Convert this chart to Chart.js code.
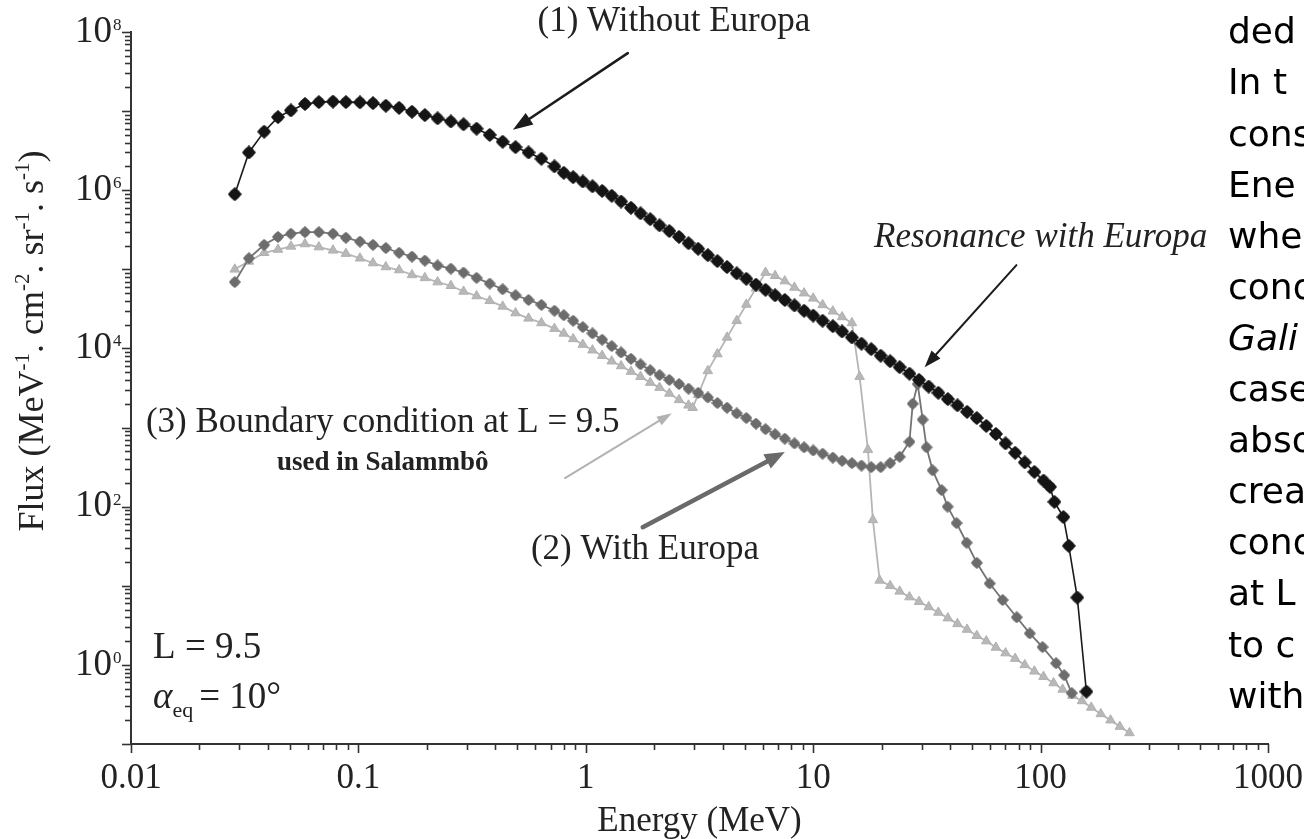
<!DOCTYPE html>
<html>
<head>
<meta charset="utf-8">
<title>Electron flux at L = 9.5</title>
<script src="https://cdn.jsdelivr.net/npm/chart.js@4.4.1/dist/chart.umd.min.js"></script>
<style>
  html, body { margin: 0; padding: 0; background: #fff; }
  #wrap { width: 1304px; height: 839px; overflow: hidden; }
</style>
</head>
<body>
<div id="wrap"><canvas id="flux" width="1304" height="839"></canvas></div>
<script>
// ---------- data (energy in MeV, flux in MeV-1 cm-2 sr-1 s-1) ----------
const energyWithoutEuropa = [
  0.0286, 0.0330, 0.0385, 0.0443, 0.0505, 0.0582, 0.0670, 0.0773, 0.0881, 0.1016,
  0.1159, 0.132, 0.151, 0.172, 0.196, 0.223, 0.255, 0.290, 0.331, 0.378,
  0.431, 0.491, 0.560, 0.638, 0.728,
  0.80, 0.88, 0.97, 1.07, 1.18, 1.30, 1.43, 1.58, 1.74, 1.92,
  2.11, 2.33, 2.57, 2.83, 3.12, 3.44, 3.79, 4.18, 4.61, 5.08,
  5.60, 6.17, 6.80, 7.50, 8.27, 9.12, 10.0, 11.0, 12.2, 13.4,
  14.8, 16.3, 18.0, 19.8, 21.8, 24.0, 26.5, 29.2, 32.2, 35.5,
  39.1, 43.1, 47.5, 52.4, 57.7, 63.6, 70.1, 77.3, 85.2, 93.9,
  103, 110, 115, 126, 133, 145, 159
];
const fluxWithoutEuropa = [
  8.9e5, 3.0e6, 5.5e6, 8.4e6, 1.02e7, 1.23e7, 1.30e7, 1.32e7, 1.30e7, 1.29e7,
  1.26e7, 1.17e7, 1.10e7, 9.8e6, 8.9e6, 8.1e6, 7.4e6, 6.8e6, 6.0e6, 5.0e6,
  4.1e6, 3.5e6, 3.0e6, 2.5e6, 2.0e6,
  1.66e6, 1.46e6, 1.29e6, 1.12e6, 9.8e5, 8.5e5, 7.2e5, 6.0e5, 5.1e5, 4.3e5,
  3.6e5, 3.05e5, 2.57e5, 2.14e5, 1.82e5, 1.51e5, 1.27e5, 1.07e5, 8.9e4, 7.6e4,
  6.4e4, 5.5e4, 4.7e4, 4.1e4, 3.5e4, 3.0e4, 2.6e4, 2.24e4, 1.91e4, 1.64e4,
  1.38e4, 1.15e4, 9.8e3, 8.1e3, 6.9e3, 5.8e3, 4.8e3, 4.0e3, 3.3e3, 2.75e3,
  2.29e3, 1.91e3, 1.58e3, 1.32e3, 1.05e3, 830, 630, 480, 363, 275,
  214, 178, 115, 74, 32, 7.1, 0.46
];

const energyWithEuropa = [
  0.0286, 0.0330, 0.0385, 0.0443, 0.0505, 0.0582, 0.0670, 0.0773, 0.0881, 0.1016,
  0.1159, 0.132, 0.151, 0.172, 0.196, 0.223, 0.255, 0.290, 0.331, 0.378,
  0.431, 0.491, 0.560, 0.638, 0.728,
  0.80, 0.88, 0.97, 1.07, 1.18, 1.30, 1.43, 1.58, 1.74, 1.92,
  2.11, 2.33, 2.57, 2.83, 3.12, 3.44, 3.79, 4.18, 4.61, 5.08,
  5.60, 6.17, 6.80, 7.50, 8.27, 9.12, 10.0, 11.0, 12.2, 13.4,
  14.8, 16.3, 18.0, 19.8, 21.8, 24.0, 26.5,
  27.4, 28.8, 30.3, 31.5, 33.5, 36.7, 39.0, 42.7, 47.3, 52.4,
  59.7, 68.1, 78.5, 89.6, 102, 117, 127, 137
];
const fluxWithEuropa = [
  6.9e4, 1.38e5, 2.04e5, 2.57e5, 2.82e5, 2.95e5, 2.95e5, 2.82e5, 2.51e5, 2.24e5,
  2.04e5, 1.86e5, 1.62e5, 1.45e5, 1.29e5, 1.12e5, 1.02e5, 9.1e4, 7.8e4, 6.6e4,
  5.6e4, 4.7e4, 4.1e4, 3.55e4, 3.0e4,
  2.63e4, 2.24e4, 1.86e4, 1.55e4, 1.29e4, 1.07e4, 8.9e3, 7.4e3, 6.3e3, 5.3e3,
  4.6e3, 4.0e3, 3.55e3, 3.1e3, 2.75e3, 2.4e3, 2.04e3, 1.78e3, 1.51e3, 1.32e3,
  1.12e3, 955, 822, 724, 631, 562, 513, 468, 417, 380,
  355, 331, 316, 316, 355, 427, 661,
  2.0e3, 3.55e3, 1.26e3, 562, 288, 162, 100, 62, 35, 19.5,
  10.7, 6.6, 4.0, 2.5, 1.68, 1.05, 0.74, 0.44
];

const energySalammbo = [
  0.0286, 0.0330, 0.0385, 0.0443, 0.0505, 0.0582, 0.0670, 0.0773, 0.0881, 0.1016,
  0.1159, 0.132, 0.151, 0.172, 0.196, 0.223, 0.255, 0.290, 0.331, 0.378,
  0.431, 0.491, 0.560, 0.638, 0.728,
  0.80, 0.88, 0.97, 1.07, 1.18, 1.30, 1.43, 1.58, 1.74, 1.92,
  2.11, 2.33, 2.57, 2.83, 2.95,
  3.12, 3.44, 3.79, 4.18, 4.61, 5.08, 5.60, 6.17,
  6.80, 7.50, 8.27, 9.12, 10.0, 11.0, 12.2, 13.4, 14.8,
  16.0, 17.4, 18.3, 19.6,
  21.8, 24.0, 26.5, 29.2, 32.2, 35.5, 39.1, 43.1, 47.5, 52.4,
  57.7, 63.6, 70.1, 77.3, 85.2, 93.9,
  103, 114, 125, 138, 152, 167, 184, 203, 223, 246
];
const fluxSalammbo = [
  1.0e5, 1.26e5, 1.62e5, 1.78e5, 1.95e5, 2.09e5, 1.91e5, 1.74e5, 1.58e5, 1.38e5,
  1.20e5, 1.07e5, 9.8e4, 8.5e4, 7.8e4, 6.9e4, 6.2e4, 5.25e4, 4.6e4, 4.0e4,
  3.4e4, 2.8e4, 2.4e4, 2.1e4, 1.78e4,
  1.55e4, 1.32e4, 1.12e4, 9.5e3, 8.1e3, 6.9e3, 6.0e3, 5.1e3, 4.4e3, 3.7e3,
  3.2e3, 2.7e3, 2.24e3, 1.91e3, 1.78e3,
  2.6e3, 5.2e3, 8.5e3, 1.38e4, 2.24e4, 3.6e4, 5.75e4, 9.1e4,
  8.3e4, 7.1e4, 5.9e4, 5.0e4, 4.3e4, 3.55e4, 2.95e4, 2.5e4, 2.1e4,
  4.4e3, 525, 68, 11.7,
  10, 8.5, 7.2, 6.3, 5.4, 4.6, 3.9, 3.3, 2.8, 2.34,
  2.0, 1.66, 1.41, 1.20, 1.00, 0.83,
  0.71, 0.59, 0.49, 0.41, 0.35, 0.29, 0.24, 0.20, 0.166, 0.138
];

const xTickValues = [0.01, 0.1, 1, 10, 100, 1000];
const xTickLabels = ['0.01', '0.1', '1', '10', '100', '1000'];
const yTickValues = [1, 1e2, 1e4, 1e6, 1e8];
const yTickExponents = ['0', '2', '4', '6', '8'];

// ---------- drawing helpers ----------
const SERIF = '"Liberation Serif", "Times New Roman", serif';

function pairs(xs, ys) { return xs.map((x, i) => ({ x: x, y: ys[i] })); }

// four-pointed star marker
function makeStar(size, color) {
  const c = document.createElement('canvas');
  c.width = size; c.height = size;
  const g = c.getContext('2d');
  const m = size / 2, w = size * 0.27;
  g.fillStyle = color;
  g.beginPath();
  g.moveTo(m, 0); g.lineTo(m + w, m - w); g.lineTo(size, m); g.lineTo(m + w, m + w);
  g.lineTo(m, size); g.lineTo(m - w, m + w); g.lineTo(0, m); g.lineTo(m - w, m - w);
  g.closePath(); g.fill();
  return c;
}

function sameDecade(a, b) { return Math.abs(Math.log10(a) - Math.log10(b)) < 1e-6; }

function decadeTicks(minExp, maxExp) {
  const out = [];
  for (let e = minExp; e < maxExp; e++) {
    for (let k = 1; k <= 9; k++) out.push({ value: k * Math.pow(10, e), major: k === 1 });
  }
  out.push({ value: Math.pow(10, maxExp), major: true });
  return out;
}

function arrow(ctx, p1, p2, color, width, headLen, headHalf) {
  const ang = Math.atan2(p2[1] - p1[1], p2[0] - p1[0]);
  const bx = p2[0] - headLen * Math.cos(ang), by = p2[1] - headLen * Math.sin(ang);
  ctx.strokeStyle = color; ctx.fillStyle = color; ctx.lineWidth = width; ctx.lineCap = 'round';
  ctx.beginPath(); ctx.moveTo(p1[0], p1[1]); ctx.lineTo(bx, by); ctx.stroke();
  ctx.beginPath(); ctx.moveTo(p2[0], p2[1]);
  ctx.lineTo(bx + headHalf * Math.sin(ang), by - headHalf * Math.cos(ang));
  ctx.lineTo(bx - headHalf * Math.sin(ang), by + headHalf * Math.cos(ang));
  ctx.closePath(); ctx.fill();
}

// annotation text and arrows, anchored in (energy, flux) space
const notes = [
  { text: '(1) Without Europa', at: [2.44, 1.34e8], font: '35px ' + SERIF },
  { text: 'Resonance with Europa', at: [100, 2.49e5], font: 'italic 35px ' + SERIF },
  { text: '(3) Boundary condition at L = 9.5', at: [0.128, 1.14e3], font: '35px ' + SERIF },
  { text: 'used in Salammbô', at: [0.128, 356], font: 'bold 27px ' + SERIF },
  { text: '(2) With Europa', at: [1.82, 28.3], font: '35px ' + SERIF }
];
const arrows = [
  { from: [1.53, 5.4e7], to: [0.478, 5.8e6], color: '#1c1c1c', width: 2.6, head: 20, half: 7 },
  { from: [78.3, 1.13e5], to: [30.9, 5.8e3], color: '#1c1c1c', width: 2, head: 17, half: 6 },
  { from: [0.81, 230], to: [2.39, 1.52e3], color: '#b2b2b2', width: 2, head: 15, half: 5 },
  { from: [1.78, 55], to: [7.5, 490], color: '#6a6a6a', width: 4.5, head: 20, half: 8 }
];
const sideLines = ['ded', 'In t', 'cons', 'Ene', 'whe', 'cond', 'Gali', 'case', 'abso', 'crea', 'cond', 'at L', 'to c', 'with'];

const decorations = {
  id: 'decorations',
  beforeDraw(chart) {
    const ctx = chart.ctx;
    ctx.save(); ctx.fillStyle = '#fff'; ctx.fillRect(0, 0, chart.width, chart.height); ctx.restore();
  },
  afterDraw(chart) {
    const { ctx, chartArea: ca } = chart;
    const xs = chart.scales.x, ys = chart.scales.y;
    const P = (e, f) => [xs.getPixelForValue(e), ys.getPixelForValue(f)];
    ctx.save();

    // tick marks on both axes (outside)
    ctx.strokeStyle = '#333'; ctx.lineWidth = 1.6;
    xs.ticks.forEach(t => {
      const px = Math.round(xs.getPixelForValue(t.value)) + 0.5;
      const len = t.major ? 9 : 6;
      ctx.beginPath(); ctx.moveTo(px, ca.bottom); ctx.lineTo(px, ca.bottom + len); ctx.stroke();
    });
    ys.ticks.forEach(t => {
      const py = Math.round(ys.getPixelForValue(t.value)) + 0.5;
      const len = t.major ? 9 : 6;
      ctx.beginPath(); ctx.moveTo(ca.left, py); ctx.lineTo(ca.left - len, py); ctx.stroke();
    });

    // y tick labels with exponents
    ctx.fillStyle = '#222';
    yTickValues.forEach((v, i) => {
      const py = ys.getPixelForValue(v);
      const xr = ca.left - 19;
      ctx.font = '37px ' + SERIF; ctx.textAlign = 'right'; ctx.textBaseline = 'middle';
      ctx.fillText('10', xr, py);
      ctx.font = '17px ' + SERIF; ctx.textAlign = 'left'; ctx.textBaseline = 'top';
      ctx.fillText(yTickExponents[i], xr + 1, py - 15);
    });

    // y axis title with superscripts, rotated
    const parts = [['Flux (MeV', 0], ['-1', 1], ['. cm', 0], ['-2', 1], ['. sr', 0], ['-1', 1], ['. s', 0], ['-1', 1], [')', 0]];
    const bigF = '36px ' + SERIF, supF = '21px ' + SERIF;
    let total = 0;
    parts.forEach(p => { ctx.font = p[1] ? supF : bigF; total += ctx.measureText(p[0]).width; });
    ctx.save();
    ctx.translate(34, ca.top + 309);
    ctx.rotate(-Math.PI / 2);
    ctx.textAlign = 'left'; ctx.textBaseline = 'middle';
    let cx = -total / 2;
    parts.forEach(p => {
      ctx.font = p[1] ? supF : bigF;
      ctx.fillText(p[0], cx, p[1] ? -11 : 0);
      cx += ctx.measureText(p[0]).width;
    });
    ctx.restore();

    // arrows
    arrows.forEach(a => arrow(ctx, P(a.from[0], a.from[1]), P(a.to[0], a.to[1]), a.color, a.width, a.head, a.half));

    // annotation texts
    ctx.fillStyle = '#222'; ctx.textAlign = 'center'; ctx.textBaseline = 'middle';
    notes.forEach(n => {
      const p = P(n.at[0], n.at[1]);
      ctx.font = n.font;
      ctx.fillText(n.text, p[0], p[1]);
    });

    // parameter box: L and equatorial pitch angle
    ctx.textAlign = 'left'; ctx.textBaseline = 'middle';
    const pL = P(0.0125, 1.63);
    ctx.font = '37px ' + SERIF;
    ctx.fillText('L = 9.5', pL[0], pL[1]);
    const pA = P(0.0125, 0.38);
    ctx.font = 'italic 37px ' + SERIF;
    ctx.fillText('α', pA[0], pA[1]);
    let ax = pA[0] + ctx.measureText('α').width;
    ctx.font = '22px ' + SERIF;
    ctx.fillText('eq', ax, pA[1] + 13);
    ax += ctx.measureText('eq').width + 6;
    ctx.font = '37px ' + SERIF;
    ctx.fillText('= 10°', ax, pA[1]);

    // side column of text at the right edge
    ctx.fillStyle = '#000'; ctx.textBaseline = 'middle';
    sideLines.forEach((s, i) => {
      ctx.font = (s === 'Gali' ? 'italic ' : '') + '36px "DejaVu Sans", sans-serif';
      ctx.fillText(s, 1228, 34 + i * 51.1);
    });
    ctx.restore();
  }
};

new Chart(document.getElementById('flux'), {
  type: 'scatter',
  data: {
    datasets: [
      {
        label: '(1) Without Europa',
        data: pairs(energyWithoutEuropa, fluxWithoutEuropa),
        showLine: true, borderColor: '#1a1a1a', borderWidth: 1.6,
        pointStyle: makeStar(14, '#151515'), pointRadius: 7, order: 1
      },
      {
        label: '(2) With Europa',
        data: pairs(energyWithEuropa, fluxWithEuropa),
        showLine: true, borderColor: '#747474', borderWidth: 1.8,
        pointStyle: makeStar(12, '#6c6c6c'), pointRadius: 6, order: 2
      },
      {
        label: '(3) Boundary condition at L = 9.5 used in Salammbô',
        data: pairs(energySalammbo, fluxSalammbo),
        showLine: true, borderColor: '#b6b6b6', borderWidth: 1.8,
        pointStyle: 'triangle', pointRadius: 5.5,
        pointBackgroundColor: '#b8b8b8', pointBorderColor: '#b0b0b0', pointBorderWidth: 1, order: 3
      }
    ]
  },
  options: {
    responsive: false,
    devicePixelRatio: 1,
    animation: false,
    layout: { padding: { left: 0, right: 36, top: 32, bottom: 0 } },
    plugins: { legend: { display: false }, tooltip: { enabled: false } },
    elements: { line: { tension: 0 } },
    scales: {
      x: {
        type: 'logarithmic', position: 'bottom', min: 0.01, max: 1000,
        afterBuildTicks: s => { s.ticks = decadeTicks(-2, 3); },
        afterFit: s => { s.height = 95; s.paddingLeft = 0; s.paddingRight = 0; },
        grid: { display: true, drawOnChartArea: false, drawTicks: false },
        border: { display: true, color: '#333', width: 2 },
        ticks: {
          autoSkip: false, maxRotation: 0, minRotation: 0, padding: 14, color: '#222',
          font: { family: SERIF, size: 35 },
          callback: v => {
            const i = xTickValues.findIndex(t => sameDecade(t, v));
            return i >= 0 ? xTickLabels[i] : '';
          }
        },
        title: {
          display: true, text: 'Energy (MeV)', color: '#222',
          font: { family: SERIF, size: 35, lineHeight: 1.0 }, padding: { top: 0, bottom: 0 }
        }
      },
      y: {
        type: 'logarithmic', position: 'left', min: 0.1, max: 1e8,
        afterBuildTicks: s => { s.ticks = decadeTicks(-1, 8); },
        afterFit: s => { s.width = 131; s.paddingTop = 0; s.paddingBottom = 0; },
        grid: { display: true, drawOnChartArea: false, drawTicks: false },
        border: { display: true, color: '#333', width: 2 },
        ticks: { display: false }
      }
    }
  },
  plugins: [decorations]
});
</script>
</body>
</html>
